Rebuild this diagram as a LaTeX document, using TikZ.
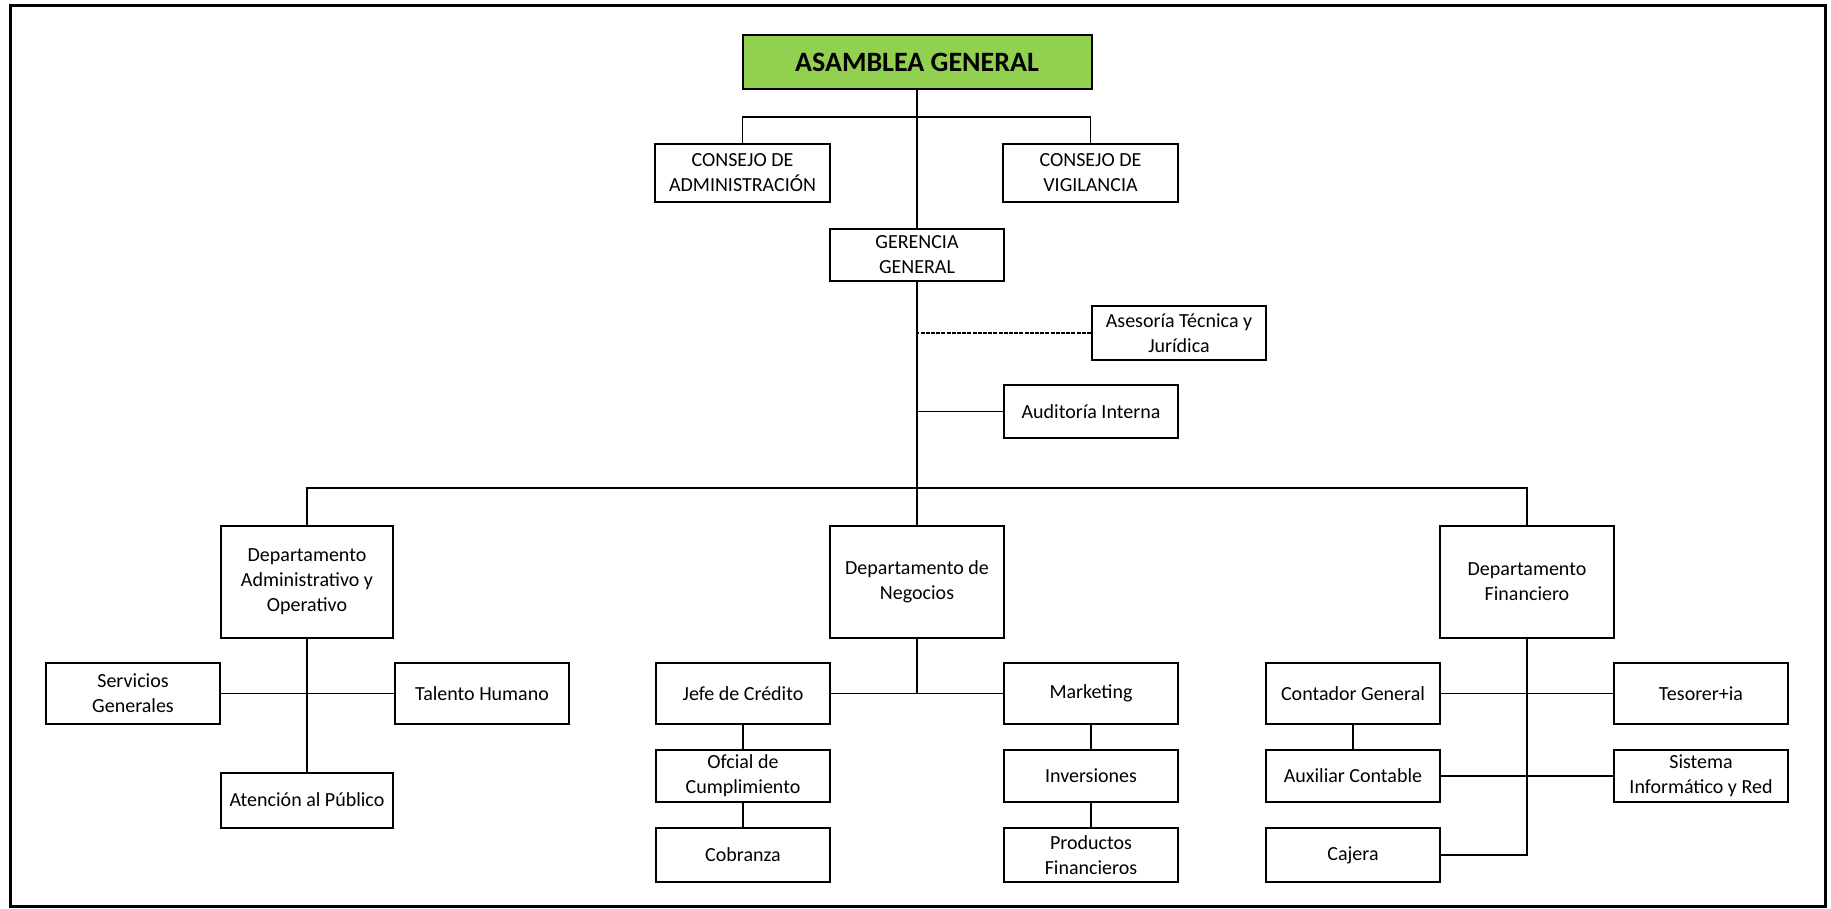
\documentclass[tikz,border=0pt]{standalone}
\usepackage{fontspec}
\setmainfont{Carlito}
\begin{document}
\begin{tikzpicture}[x=1pt,y=-1pt,
  box/.style={draw, line width=2pt, fill=white, align=center, inner sep=0pt,
    font=\fontsize{20}{25}\selectfont, minimum width=174pt},
  conn/.style={line width=1.7pt},
  dashconn/.style={line width=2pt, dash pattern=on 4pt off 1.2pt}]
\useasboundingbox (0,0) rectangle (1831,908);
\draw[line width=3pt] (10,5) rectangle (1825,906);

\node[box, fill={rgb,255:red,146;green,208;blue,80}, minimum width=349pt, minimum height=54pt,
  font=\fontsize{28}{33}\selectfont\bfseries] (asm) at (917,62) {ASAMBLEA GENERAL};
\node[box, minimum width=175pt, minimum height=58pt] (cadm) at (742.5,173) {CONSEJO DE\\ADMINISTRACIÓN};
\node[box, minimum width=175pt, minimum height=58pt] (cvig) at (1090.5,173) {CONSEJO DE\\VIGILANCIA};
\node[box, minimum height=52pt] (ger) at (917,255) {GERENCIA\\GENERAL};
\node[box, minimum height=54pt] (ase) at (1179,333) {Asesoría Técnica y\\Jurídica};
\node[box, minimum height=53pt] (aud) at (1091,411.5) {Auditoría Interna};

\node[box, minimum width=172pt, minimum height=112pt] (dadm) at (307,581.5) {Departamento\\Administrativo y\\Operativo};
\node[box, minimum height=112pt] (dneg) at (917,581.5) {Departamento de\\Negocios};
\node[box, minimum height=112pt] (dfin) at (1527,581.5) {Departamento\\Financiero};

\node[box, minimum height=61pt] (serv) at (133,693.5) {Servicios\\Generales};
\node[box, minimum height=61pt] (tal) at (482,693.5) {Talento Humano};
\node[box, minimum width=172pt, minimum height=55pt] (aten) at (307,800) {Atención al Público};

\node[box, minimum height=61pt] (jefe) at (743,693.5) {Jefe de Crédito};
\node[box, minimum height=61pt] (mkt) at (1091,693.5) {Marketing};
\node[box, minimum height=52pt] (ofc) at (743,776) {Ofcial de\\Cumplimiento};
\node[box, minimum height=54pt] (cob) at (743,855) {Cobranza};
\node[box, minimum height=52pt] (inv) at (1091,776) {Inversiones};
\node[box, minimum height=54pt] (prod) at (1091,855) {Productos\\Financieros};

\node[box, minimum height=61pt] (cont) at (1353,693.5) {Contador General};
\node[box, minimum height=61pt] (tes) at (1701,693.5) {Tesorer+ia};
\node[box, minimum height=52pt] (aux) at (1353,776) {Auxiliar Contable};
\node[box, minimum height=52pt] (sis) at (1701,776) {Sistema\\Informático y Red};
\node[box, minimum height=54pt] (caj) at (1353,855) {Cajera};

\coordinate (jc) at (917,117);
\coordinate (bus) at (917,488);

\draw[conn] (asm.south) -- (ger.north);
\draw[conn] (cadm.north) |- (jc) -| (cvig.north);
\draw[conn] (ger.south) -- (dneg.north);
\draw[dashconn] (ase.west) -- (ase.west -| ger.south);
\draw[conn] (aud.west) -- (aud.west -| ger.south);
\draw[conn] (dadm.north) |- (bus) -| (dfin.north);

\draw[conn] (dadm.south) -- (aten.north);
\draw[conn] (serv.east) -- (tal.west);

\draw[conn] (dneg.south) -- (dneg.south |- jefe.east);
\draw[conn] (jefe.east) -- (mkt.west);
\draw[conn] (jefe.south) -- (ofc.north);
\draw[conn] (ofc.south) -- (cob.north);
\draw[conn] (mkt.south) -- (inv.north);
\draw[conn] (inv.south) -- (prod.north);

\draw[conn] (dfin.south) |- (caj.east);
\draw[conn] (cont.east) -- (tes.west);
\draw[conn] (aux.east) -- (sis.west);
\draw[conn] (cont.south) -- (aux.north);
\end{tikzpicture}
\end{document}
